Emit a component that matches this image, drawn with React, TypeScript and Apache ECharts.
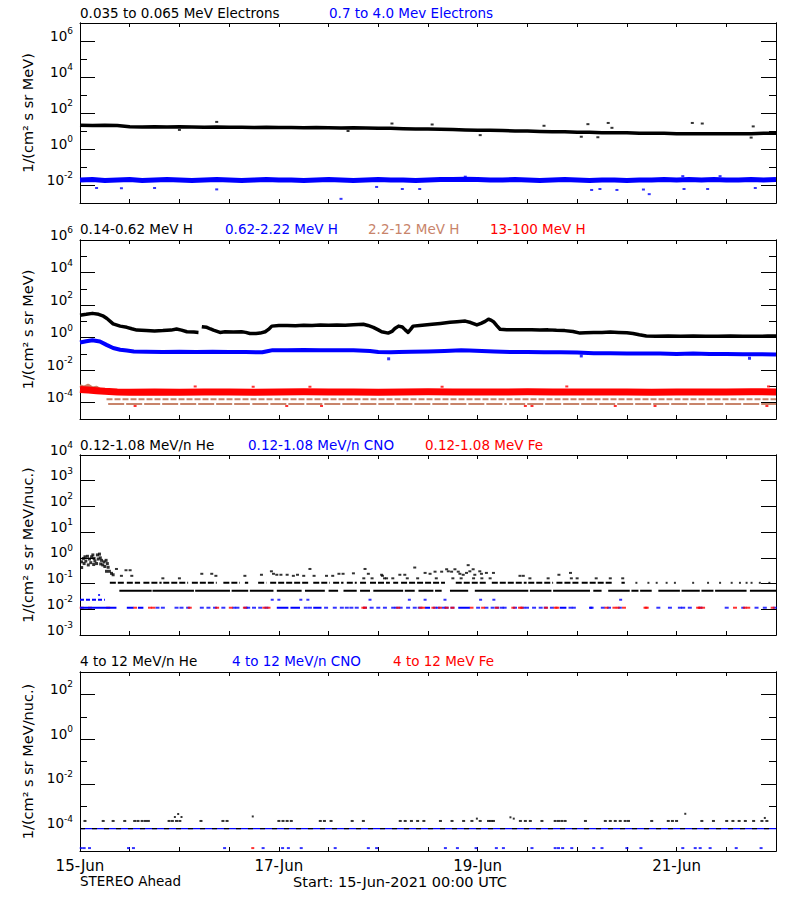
import React, { useEffect, useRef } from 'react';
import * as echarts from 'echarts';

const FONT = 'DejaVu Sans';
const BLACK = '#000000';
const BLUE = '#0000ff';
const RED = '#ff0000';
const BROWN = '#c8846a';

// ---------- axes ----------
const TOTAL_HOURS = 168; // 15-Jun 00:00 .. 22-Jun 00:00
const DAY_TICK_HOURS = [0, 48, 96, 144];
const DAY_LABELS = ['15-Jun', '17-Jun', '19-Jun', '21-Jun'];

const P1_EXP_RANGE = [-3, 7];
const P2_EXP_RANGE = [-5, 6];
const P3_EXP_RANGE = [-3, 4];
const P4_EXP_RANGE = [-5, 3];
const P1_LABEL_EXP = [-2, 0, 2, 4, 6];
const P2_LABEL_EXP = [-4, -2, 0, 2, 4, 6];
const P3_LABEL_EXP = [-3, -2, -1, 0, 1, 2, 3, 4];
const P4_LABEL_EXP = [-4, -2, 0, 2];

const UNIT_MEV = '1/(cm² s sr MeV)';
const UNIT_NUC = '1/(cm² s sr MeV/nuc.)';

// ---------- legends ----------
const P1_NAMES = ['0.035 to 0.065 MeV Electrons', '0.7 to 4.0 Mev Electrons'];
const P2_NAMES = ['0.14-0.62 MeV H', '0.62-2.22 MeV H', '2.2-12 MeV H', '13-100 MeV H'];
const P3_NAMES = ['0.12-1.08 MeV/n He', '0.12-1.08 MeV/n CNO', '0.12-1.08 MeV Fe'];
const P4_NAMES = ['4 to 12 MeV/n He', '4 to 12 MeV/n CNO', '4 to 12 MeV Fe'];
const FOOTER_LEFT = 'STEREO Ahead';
const FOOTER_MID = 'Start: 15-Jun-2021 00:00 UTC';

// ---------- panel 1: electrons [hour, flux] ----------
const P1_ELEC_LOW: [number, number][] = [[0,21],[3,20],[6,21],[9,20],[12,17],[15,16.5],[18,17],[21,16.5],[24,17],[27,16.5],[30,16],[33,16.5],[36,16],[39,16],[42,15.5],[45,16],[48,15.5],[51,15.5],[54,15],[57,15.5],[60,15],[63,14.5],[66,15],[69,14.5],[72,14],[75,14],[78,13.5],[81,13],[84,13],[87,12.5],[90,12],[93,11.5],[96,11],[99,11],[102,10.5],[105,10],[108,10],[111,9.5],[114,9],[117,9],[120,8.5],[123,8.5],[126,8],[129,8],[132,8],[135,7.5],[138,7.5],[141,7.5],[144,7],[147,7],[150,7],[153,7],[156,7],[159,7],[162,7],[165,7.5],[168,7.5]];
const P1_ELEC_LOW_SPIKES: [number, number][] = [[75.3,26],[85,23],[112,19.5],[122.6,24],[127.5,28],[128.4,15],[147.8,28],[150.2,26],[162.5,18],[125,4.5],[96.6,5.9],[162,4.3],[121,4.8],[33,32],[24,11.5],[64.7,10]];
const P1_ELEC_HIGH: [number, number][] = [[0,0.019],[3,0.02],[6,0.018],[9,0.019],[12,0.02],[15,0.018],[18,0.019],[21,0.02],[24,0.019],[27,0.018],[30,0.019],[33,0.02],[36,0.019],[39,0.018],[42,0.019],[45,0.02],[48,0.019],[51,0.019],[54,0.018],[57,0.019],[60,0.02],[63,0.019],[66,0.018],[69,0.019],[72,0.02],[75,0.019],[78,0.019],[81,0.018],[84,0.019],[87,0.02],[90,0.02],[93,0.021],[96,0.02],[99,0.019],[102,0.019],[105,0.02],[108,0.019],[111,0.018],[114,0.019],[117,0.02],[120,0.019],[123,0.018],[126,0.019],[129,0.019],[132,0.018],[135,0.019],[138,0.019],[141,0.02],[144,0.019],[147,0.02],[150,0.019],[153,0.02],[156,0.019],[159,0.019],[162,0.02],[165,0.019],[168,0.02]];
const P1_ELEC_HIGH_SPIKES: [number, number][] = [[4,0.0068],[10,0.0066],[18,0.0068],[33,0.0057],[63,0.0017],[71.6,0.0078],[77.8,0.006],[82,0.006],[123.5,0.0053],[125.5,0.006],[129.6,0.0053],[136,0.0056],[137.4,0.0031],[145.8,0.006],[151.5,0.006],[163,0.0068],[93,0.029],[145.5,0.031],[154.5,0.031]];

// ---------- panel 2: protons ----------
const P2_H_LOW: [number, number | null][] = [[0,24],[1.5,27],[3,31],[4.5,27],[5.5,22],[6.5,15],[8,7],[9.7,5.1],[11.3,4.3],[12.5,3.5],[13.7,2.9],[16,2.7],[18,2.6],[20,2.7],[22,2.9],[23.3,3.4],[24.5,2.9],[25.8,2.3],[27.5,2.2],[28.6,2.1],[29,null],[29.4,4.7],[30.6,4.3],[31.5,3.4],[32.2,2.9],[33.8,2.1],[35,2.3],[37,2.2],[39,2.3],[40,2.1],[41,1.8],[42.5,1.8],[43.5,1.9],[44.7,2.3],[45.5,3.2],[46.3,5.1],[48,5.5],[50,5.6],[52,5.4],[54,5.8],[56,5.6],[58,5.9],[60,5.7],[62,5.9],[64,5.8],[66,6.2],[68.4,6.6],[69.5,5.6],[70.8,4.3],[72,3],[72.8,2.3],[74.4,1.9],[75.3,2.4],[76,3.6],[76.9,5.1],[77.8,4.5],[78.5,3],[79.2,2.1],[79.8,3.2],[80.4,5.1],[82,5.6],[85,6.6],[87,7.5],[89.3,8.7],[91,9.5],[93,10.4],[94.3,8.5],[95.8,6],[96.8,7.5],[97.8,10],[98.6,13.7],[99.3,11.5],[99.8,9.6],[100.6,5.5],[101.4,3.3],[103,3.1],[105,3],[107,3.1],[109,3],[111,2.9],[113,3],[115,2.8],[117,2.7],[119,2.4],[120.7,1.9],[122,2],[124,2.1],[126,2.1],[128,2.2],[130,2.1],[132,2],[133.5,1.8],[135,1.5],[136.7,1.25],[139,1.2],[142,1.25],[145,1.2],[148,1.25],[151,1.2],[154,1.2],[157,1.25],[160,1.2],[163,1.2],[166,1.25],[168,1.25]];
const P2_H_MID: [number, number][] = [[0,0.5],[1.5,0.6],[3,0.7],[4.8,0.58],[6.4,0.36],[8,0.23],[9.7,0.18],[11.3,0.16],[13,0.14],[16,0.135],[20,0.13],[24,0.135],[28,0.13],[32,0.135],[36,0.13],[40,0.13],[44,0.125],[45.5,0.15],[46.5,0.17],[50,0.17],[54,0.175],[58,0.17],[62,0.17],[66,0.165],[70,0.15],[72,0.13],[75,0.125],[77,0.13],[80,0.135],[84,0.14],[88,0.15],[92,0.165],[94,0.16],[97,0.15],[100,0.14],[104,0.13],[108,0.13],[112,0.125],[116,0.125],[120,0.12],[124,0.11],[128,0.11],[132,0.105],[136,0.105],[140,0.105],[144,0.1],[148,0.105],[152,0.1],[156,0.1],[160,0.095],[164,0.095],[168,0.093]];
const P2_H_MID_SPIKES: [number, number][] = [[74.5,0.05],[161.6,0.054],[121,0.075]];
const P2_H_HIGH_EARLY: [number, number][] = [[0,1.1e-3],[1,9e-4],[2,1.2e-3],[3,8e-4],[4,9e-4],[5,6e-4],[6,4e-4]];
const P2_H_HIGH_LEVEL_A = 1.65e-4;
const P2_H_HIGH_LEVEL_B = 8.5e-5;
const P2_H_HIGH_SEGS_A = [[6.4, 168]];
const P2_H_HIGH_SEGS_B = [[6.8, 41], [41.6, 103], [103.6, 168]];
const P2_H_TOP: [number, number][] = [[0,6.5e-4],[2,6e-4],[4,5.5e-4],[6,5e-4],[9,4.6e-4],[12,4.4e-4],[18,4.6e-4],[24,4.4e-4],[30,4.6e-4],[36,4.5e-4],[42,4.4e-4],[48,4.6e-4],[54,4.7e-4],[60,4.5e-4],[66,4.6e-4],[72,4.4e-4],[78,4.6e-4],[84,4.7e-4],[90,4.6e-4],[96,4.5e-4],[102,4.6e-4],[108,4.7e-4],[114,4.6e-4],[120,4.5e-4],[126,4.6e-4],[132,4.5e-4],[138,4.4e-4],[144,4.6e-4],[150,4.5e-4],[156,4.6e-4],[162,4.7e-4],[168,4.6e-4]];
const P2_H_TOP_SPIKES: [number, number][] = [[13.3,6.3e-5],[49.9,6.3e-5],[58.3,6.3e-5],[107.5,6.3e-5],[109.1,6.3e-5],[129.2,6.3e-5],[138.8,6.3e-5],[165.8,6.3e-5],[41.8,9.6e-4],[27.8,1e-3],[55.5,9.6e-4],[87.4,9.6e-4],[117.5,1e-3],[166.2,1e-3]];

// ---------- panel 3: 0.12-1.08 MeV/n ions ----------
const P3_HE_EARLY: [number, number][] = [[0.4,0.7],[0.8,0.95],[1.2,1.1],[1.4,0.75],[1.8,1.15],[2.3,0.9],[2.6,0.65],[2.8,1.1],[3.1,1.3],[3.4,0.95],[3.6,0.75],[4,0.6],[4.2,1.3],[4.4,0.9],[4.7,1.4],[5,0.58],[5.2,0.8],[5.5,0.53],[5.8,0.7],[6,0.46],[6.3,0.8],[6.6,0.6],[6.8,0.43],[7.1,0.3],[6.4,0.3],[7.6,0.25],[8,0.22],[0.4,0.42],[2,0.53],[1,0.6],[3.3,0.55],[4.9,1]];
const P3_HE_UPPER: [number, number][] = [[8.8,0.37],[10,0.2],[11.1,0.33],[12.1,0.33],[12.5,0.2],[20,0.16],[24,0.16],[29.4,0.24],[31.8,0.24],[32.8,0.2],[39.8,0.2],[43.8,0.22],[46.2,0.3],[46.7,0.24],[47.5,0.22],[48.5,0.22],[50,0.22],[51.5,0.2],[52.5,0.22],[55.5,0.37],[54,0.2],[56.5,0.2],[59.5,0.2],[61,0.2],[62.5,0.24],[63.5,0.24],[66,0.25],[68.8,0.37],[69.6,0.24],[68.5,0.16],[70.5,0.16],[73,0.2],[73.5,0.16],[75.5,0.16],[72.8,0.22],[74,0.16],[77.2,0.22],[78.4,0.22],[79,0.16],[80.8,0.42],[81.5,0.16],[83.3,0.26],[84.5,0.24],[85.7,0.29],[86,0.16],[87.3,0.29],[88.5,0.36],[88.9,0.3],[89.7,0.29],[90.5,0.36],[91.3,0.29],[91.7,0.24],[92.5,0.22],[93.3,0.26],[93.7,0.52],[94.1,0.3],[94.9,0.36],[95.3,0.22],[96.5,0.3],[96.9,0.24],[98.1,0.26],[99.8,0.26],[90,0.16],[92,0.16],[95,0.16],[97,0.16],[99,0.16],[106.2,0.2],[107,0.2],[108.6,0.16],[113,0.16],[115.6,0.22],[118.4,0.26],[118.6,0.16],[120,0.16],[124.6,0.16],[128,0.16],[131,0.16]];
const P3_HE_LEVEL_A = 0.107;
const P3_HE_LEVEL_B = 0.052;
const P3_HE_SEGS_A = [[7.2,10.9],[11.3,14.5],[15.3,19.7],[20.1,26.1],[27,33],[34.6,38.6],[39.8,40.6],[43,45],[45.9,55.5],[56.3,60.3],[61.1,63.6],[64.4,66.8],[67.6,69.2],[70,74.8],[75.6,76.8],[77.5,88.1],[90.7,98.1],[99.4,107.8],[108.2,114.2],[115,120.7],[121.1,128.7],[130.7,131.5]];
const P3_HE_DOTS_A = [134.3,137.2,139.2,141.6,143.6,148,151.6,154.5,157.3,159.3,160.9,162.1,164.1,166.4];
const P3_HE_SEGS_B = [[9.5,17.3],[17.5,27.5],[27.8,36.2],[36.6,40.6],[41,46.7],[47.5,53.5],[54.3,59.1],[60,62.3],[63.6,66.8],[67.6,70],[70.8,78],[78.4,80.8],[81.7,85.3],[85.7,87.3],[89.3,93.7],[95.3,108.2],[108.6,113.8],[114.2,123.1],[123.9,125.9],[127.5,132.7],[133.1,134.8],[135.2,138],[139.6,144.8],[145.2,149.6],[150,152.9],[153.3,160.9],[161.7,168]];
const P3_CNO_LEVEL_A = 0.0115;
const P3_CNO_LEVEL_B = 0.0235;
const P3_CNO_SEGS_A = [[0,8.8],[11.3,12.9],[14,15.3],[47.5,50.3],[50.8,53.1],[56.3,58.3],[83.3,84.5],[91.3,94.1],[115.8,117.4],[122.9,123.7]];
const P3_CNO_DOTS_A = [18.7,20,23.3,24.5,26.1,29.4,31,32.6,34.6,37.2,38,40,40.6,42,43.5,45,54.5,55.5,59.4,61.5,63.2,64.4,65.5,66.8,68.8,70.4,72,73.6,75.6,76.4,77.4,79.2,80.8,82,85.7,86.5,87.8,88.5,89.9,96.1,98.1,99.6,100.7,101.8,102.5,105,107,107.9,109.6,111.2,112.4,113.9,118.4,119.2,123.5,126.2,127.7,130.3,139.6,142.4,144.8,145.6,147.2,149.8,156.1,160.1,163.3,165.3,167.7];
const P3_CNO_SEGS_B = [[0, 6]];
const P3_CNO_DOTS_B = [46.4,48,53.3,55,70,79.5,83.3,88.1,96.7,99.9,130.5];
const P3_CNO_EXTRA: [number, number][] = [[4.6, 0.036]];
const P3_FE_DOTS = [0.4,2.4,6.8,13.3,16.9,17.7,26.5,33.1,36.4,39.8,44.5,45.5,68.4,68.8,76.8,82.2,82.9,85.3,86.9,88.5,89.9,94.5,97.3,100.6,104.6,106.2,106.6,112.5,114.8,115.2,127.1,129,129.8,131.3,136.5,136.8,149.2,149.6,150.4,158.1,160.5,161.3,167.2];

// ---------- panel 4: 4-12 MeV/n ions ----------
const P4_HE_LEVEL = 2.2e-4;
const P4_HE_DOTS = [1.2,5.6,8,10.8,13.2,14,15,15.8,16.5,21.5,22.3,23.3,24.1,29.2,34.5,35.5,48,49,50,51,58,59,60.6,65.7,68.4,77.3,78.5,80,81.5,83,87,89.8,92.6,94.6,96.6,98.6,99.2,99.8,106.3,107.5,108.7,111.5,114.7,115.5,116.3,117.1,122,126.8,128,129.2,130.4,131.6,132.4,138,142,143,144,150.1,152.9,156.1,157.6,159.1,160.6,162.6,164.6,165.8];
const P4_HE_HIGH: [number, number][] = [[23.7,4.5e-4],[24.5,3.3e-4],[22.9,3.3e-4],[41.7,3.5e-4],[95.8,2.8e-4],[103.9,3.2e-4],[104.7,2.8e-4],[146.1,4.6e-4],[165.3,3e-4]];
const P4_ONE_COUNT = 1e-4;
const P4_ONE_COUNT_SEGS = [[0, 168]];
const P4_CNO_LOW_LEVEL = 1.35e-5;
const P4_CNO_LOW_DOTS = [0.3,1,2.3,11.7,12.9,34.9,44.2,48.9,50.3,53.4,61.6,69.6,71.6,88.2,91.1,95.6,100.5,102.2,109.1,114.7,115.5,116.5,118.7,124,126,132,135.4,145.5,148.5,149.7,152.1,158.4,164.4];
const P4_FE_LOW_DOTS = [41.7];

// ---------- helpers ----------
const L = (v: number) => Math.log10(v);
const toPts = (arr: [number, number | null][]) => arr.map(([h, v]) => [h, v == null ? '-' : L(v)]);
const toSegs = (segs: number[][], level: number) => {
  const out: any[] = [];
  segs.forEach(([a, b]) => { out.push([a, L(level)], [b, L(level)], [b, '-']); });
  return out;
};
const toDots = (hours: number[], level: number) => hours.map((h) => [h, L(level)]);

function buildOption() {
  const panels = [
    { top: 23, height: 180, range: P1_EXP_RANGE, labels: P1_LABEL_EXP, unit: UNIT_MEV },
    { top: 240, height: 179, range: P2_EXP_RANGE, labels: P2_LABEL_EXP, unit: UNIT_MEV },
    { top: 455, height: 180, range: P3_EXP_RANGE, labels: P3_LABEL_EXP, unit: UNIT_NUC },
    { top: 672, height: 179, range: P4_EXP_RANGE, labels: P4_LABEL_EXP, unit: UNIT_NUC },
  ];
  const axisLine = { show: true, onZero: false, lineStyle: { color: BLACK, width: 1 } };
  const grid = panels.map((p) => ({ left: 80, width: 696, top: p.top, height: p.height, show: false }));

  const xAxis: any[] = [];
  panels.forEach((p, i) => {
    const base = {
      type: 'value', gridIndex: i, min: 0, max: TOTAL_HOURS, interval: 12,
      splitLine: { show: false }, axisLine,
      axisTick: { show: true, inside: true, length: 4, lineStyle: { color: BLACK, width: 1 } },
    };
    xAxis.push({
      ...base, position: 'bottom',
      axisLabel: i === 3 ? {
        show: true, margin: 7, color: BLACK, fontFamily: FONT, fontSize: 15,
        formatter: (v: number) => { const k = DAY_TICK_HOURS.indexOf(v); return k >= 0 ? DAY_LABELS[k] : ''; },
      } : { show: false },
    });
    xAxis.push({ ...base, position: 'top', axisLabel: { show: false } });
  });

  const rich = {
    b: { fontSize: 13.5, fontFamily: FONT, color: BLACK, lineHeight: 13, verticalAlign: 'bottom', padding: [0, 0, 5, 0] },
    e: { fontSize: 9, fontFamily: FONT, color: BLACK, lineHeight: 9, verticalAlign: 'bottom', padding: [0, 0, 12, 0] },
  };
  const yAxis: any[] = [];
  panels.forEach((p, i) => {
    const base = { type: 'value', gridIndex: i, min: p.range[0], max: p.range[1], splitLine: { show: false }, axisLine };
    const minorTick = { show: true, inside: true, length: 7, lineStyle: { color: BLACK, width: 1 } };
    const majorTick = { show: true, inside: true, length: 15, customValues: p.labels, lineStyle: { color: BLACK, width: 1 } };
    yAxis.push({ ...base, position: 'left', interval: 1, axisTick: minorTick, axisLabel: { show: false } });
    yAxis.push({
      ...base, position: 'left', axisTick: majorTick,
      axisLabel: {
        show: true, customValues: p.labels, margin: 7,
        formatter: (v: number) => `{b|10}{e|${Math.round(v)}}`, rich,
      },
      name: p.unit, nameLocation: 'middle', nameGap: 39,
      nameTextStyle: { fontFamily: FONT, fontSize: 14.5, color: BLACK },
    });
    yAxis.push({ ...base, position: 'right', interval: 1, axisTick: minorTick, axisLabel: { show: false } });
    yAxis.push({ ...base, position: 'right', axisTick: majorTick, axisLabel: { show: false } });
  });

  const line = (gi: number, data: any[], color: string, width: number, dash?: number[]) => ({
    type: 'line', xAxisIndex: gi * 2, yAxisIndex: gi * 4, data, symbol: 'none', showSymbol: false,
    connectNulls: false, silent: true,
    lineStyle: { color, width, type: dash ? dash : 'solid', cap: 'butt', join: 'round' },
    itemStyle: { color },
  });
  const scatter = (gi: number, data: any[], color: string, size: number[]) => ({
    type: 'scatter', xAxisIndex: gi * 2, yAxisIndex: gi * 4, data, symbol: 'rect', symbolSize: size,
    silent: true, itemStyle: { color },
  });

  const series: any[] = [
    // panel 1
    line(0, toPts(P1_ELEC_HIGH), BLUE, 5),
    scatter(0, toPts(P1_ELEC_HIGH_SPIKES), BLUE, [3, 2]),
    line(0, toPts(P1_ELEC_LOW), BLACK, 3.5),
    scatter(0, toPts(P1_ELEC_LOW_SPIKES), BLACK, [3, 2]),
    // panel 2
    line(1, toSegs(P2_H_HIGH_SEGS_A, P2_H_HIGH_LEVEL_A), BROWN, 2, [6, 2]),
    line(1, toSegs(P2_H_HIGH_SEGS_B, P2_H_HIGH_LEVEL_B), BROWN, 2, [16, 2]),
    line(1, toPts(P2_H_HIGH_EARLY), BROWN, 3),
    line(1, toPts(P2_H_TOP), RED, 7),
    scatter(1, toPts(P2_H_TOP_SPIKES), RED, [3, 2]),
    line(1, toPts(P2_H_MID), BLUE, 4),
    scatter(1, toPts(P2_H_MID_SPIKES), BLUE, [3, 3]),
    line(1, toPts(P2_H_LOW), BLACK, 3.5),
    // panel 3
    line(2, toSegs(P3_CNO_SEGS_A, P3_CNO_LEVEL_A), BLUE, 2),
    scatter(2, toDots(P3_CNO_DOTS_A, P3_CNO_LEVEL_A), BLUE, [4, 2]),
    line(2, toSegs(P3_CNO_SEGS_B, P3_CNO_LEVEL_B), BLUE, 2, [4, 2]),
    scatter(2, toDots(P3_CNO_DOTS_B, P3_CNO_LEVEL_B), BLUE, [3, 2]),
    scatter(2, toPts(P3_CNO_EXTRA), BLUE, [2, 2]),
    scatter(2, toDots(P3_FE_DOTS, P3_CNO_LEVEL_A), RED, [4, 2]),
    line(2, toSegs(P3_HE_SEGS_B, P3_HE_LEVEL_B), BLACK, 2),
    line(2, toSegs(P3_HE_SEGS_A, P3_HE_LEVEL_A), BLACK, 2, [6, 2]),
    scatter(2, toDots(P3_HE_DOTS_A, P3_HE_LEVEL_A), BLACK, [2, 2]),
    scatter(2, toPts(P3_HE_UPPER), BLACK, [3, 2]),
    scatter(2, toPts(P3_HE_EARLY), BLACK, [3, 3]),
    // panel 4
    line(3, toSegs(P4_ONE_COUNT_SEGS, P4_ONE_COUNT), BLUE, 1.2),
    line(3, toSegs(P4_ONE_COUNT_SEGS, P4_ONE_COUNT), BLACK, 1.2, [5, 7]),
    scatter(3, toDots(P4_HE_DOTS, P4_HE_LEVEL), BLACK, [3, 2]),
    scatter(3, toPts(P4_HE_HIGH), BLACK, [2, 2]),
    scatter(3, toDots(P4_CNO_LOW_DOTS, P4_CNO_LOW_LEVEL), BLUE, [3, 2]),
    scatter(3, toDots(P4_FE_LOW_DOTS, P4_CNO_LOW_LEVEL), RED, [3, 2]),
  ];

  const legendX = [[80, 329], [80, 225, 368, 490], [80, 248, 425], [80, 232, 393]];
  const legendTop = [5.5, 221.5, 437.5, 653.5];
  const legendTexts = [P1_NAMES, P2_NAMES, P3_NAMES, P4_NAMES];
  const legendColors = [[BLACK, BLUE], [BLACK, BLUE, BROWN, RED], [BLACK, BLUE, RED], [BLACK, BLUE, RED]];
  const title: any[] = [];
  legendTexts.forEach((names, i) => {
    names.forEach((t, j) => {
      title.push({
        text: t, left: legendX[i][j], top: legendTop[i], padding: 0,
        textStyle: { color: legendColors[i][j], fontFamily: FONT, fontSize: 13.5, fontWeight: 'normal' },
      });
    });
  });
  title.push({ text: FOOTER_LEFT, left: 80, top: 874, padding: 0, textStyle: { color: BLACK, fontFamily: FONT, fontSize: 13.5, fontWeight: 'normal' } });
  title.push({ text: FOOTER_MID, left: 293, top: 874, padding: 0, textStyle: { color: BLACK, fontFamily: FONT, fontSize: 14.5, fontWeight: 'normal' } });

  return { animation: false, backgroundColor: '#ffffff', title, grid, xAxis, yAxis, series };
}

export default function App() {
  const ref = useRef<HTMLDivElement>(null);
  useEffect(() => {
    if (!ref.current) return;
    const chart = echarts.init(ref.current, null, { renderer: 'svg' });
    chart.setOption(buildOption() as any);
    return () => chart.dispose();
  }, []);
  return (
    <div
      ref={ref}
      style={{ position: 'fixed', left: 0, top: 0, width: 800, height: 900, background: '#ffffff' }}
    />
  );
}
